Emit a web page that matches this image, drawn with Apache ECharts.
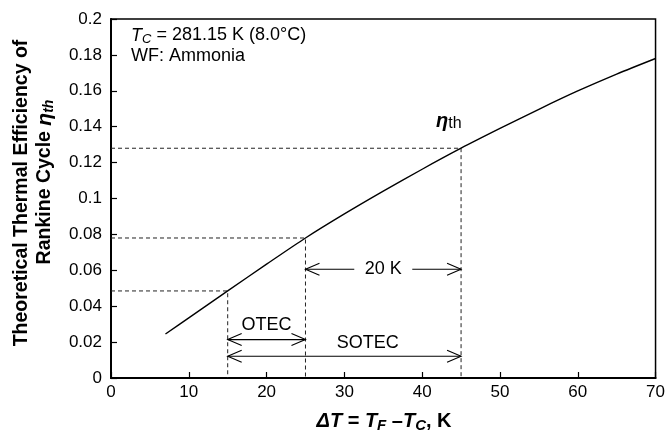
<!DOCTYPE html>
<html>
<head>
<meta charset="utf-8">
<script src="https://cdn.jsdelivr.net/npm/echarts@6/dist/echarts.min.js"></script>
<style>
  html, body { margin: 0; padding: 0; background: #fff; }
  #chart { width: 668px; height: 433px; }
</style>
</head>
<body>
<div id="chart"></div>
<script>
// Temperature difference ΔT (K) and theoretical Rankine-cycle efficiency
const deltaT = [7, 10, 15, 20, 25, 30, 35, 40, 45, 50, 55, 60, 65, 70];
const etaTh = [0.0245, 0.0335, 0.0485, 0.0634, 0.078, 0.0914, 0.1041, 0.1163, 0.128,
               0.139, 0.1497, 0.1599, 0.1693, 0.178];

// Operating points marked with dashed guides (ΔT values on the curve)
const guideDeltaT = [15, 25, 45];

// Range arrows: [from ΔT, to ΔT, height on the efficiency axis]
const arrowSpans = [[25, 45, 0.0606], [15, 25, 0.0214], [15, 45, 0.0121]];
const arrowNames = ['20 K', 'OTEC', 'SOTEC'];
// Where the range names sit: [ΔT, efficiency]
const arrowNamePos = [[35, 0.0606], [20, 0.0294], [33, 0.0193]];

// Axis ticks
const xTicks = { min: 0, max: 70, step: 10 };
const yTicks = { min: 0, max: 0.2, step: 0.02 };

const FONT = '"Liberation Sans", Arial, Helvetica, sans-serif';

const chart = echarts.init(document.getElementById('chart'), null, { renderer: 'canvas' });

const curve = deltaT.map((x, i) => [x, etaTh[i]]);

const guideSeries = guideDeltaT.map(x => {
  const y = etaTh[deltaT.indexOf(x)];
  return {
    type: 'line',
    data: [[0, y], [x, y], [x, 0]],
    symbol: 'none',
    silent: true,
    z: 1,
    lineStyle: { color: '#222', width: 1, type: [4, 3] }
  };
});

const arrowSeries = {
  type: 'custom',
  silent: true,
  z: 3,
  data: arrowSpans.map((s, i) => [s[0], s[1], s[2], i]),
  encode: { x: [0, 1], y: 2 },
  renderItem: function (params, api) {
    const idx = api.value(3);
    const a = api.coord([api.value(0), api.value(2)]);
    const b = api.coord([api.value(1), api.value(2)]);
    const head = 14, half = 6;
    const style = { stroke: '#000', lineWidth: 1.1, fill: null };
    const children = [];
    if (idx === 0) {
      // leave room for the centred label
      const mid = (a[0] + b[0]) / 2, gap = 29;
      children.push({ type: 'line', shape: { x1: a[0], y1: a[1], x2: mid - gap, y2: a[1] }, style });
      children.push({ type: 'line', shape: { x1: mid + gap, y1: a[1], x2: b[0], y2: b[1] }, style });
    } else {
      children.push({ type: 'line', shape: { x1: a[0], y1: a[1], x2: b[0], y2: b[1] }, style });
    }
    children.push({ type: 'polyline', shape: { points: [[a[0] + head, a[1] - half], [a[0], a[1]], [a[0] + head, a[1] + half]] }, style });
    children.push({ type: 'polyline', shape: { points: [[b[0] - head, b[1] - half], [b[0], b[1]], [b[0] - head, b[1] + half]] }, style });
    return { type: 'group', children };
  }
};

const nameSeries = {
  type: 'custom',
  silent: true,
  z: 4,
  data: arrowNamePos.map((p, i) => [p[0], p[1], i]),
  renderItem: function (params, api) {
    const p = api.coord([api.value(0), api.value(1)]);
    return {
      type: 'text',
      x: p[0], y: p[1],
      style: {
        text: arrowNames[api.value(2)],
        font: '18px ' + FONT,
        fill: '#000',
        align: 'center',
        verticalAlign: 'middle'
      }
    };
  }
};

const option = {
  animation: false,
  backgroundColor: '#fff',
  grid: { left: 111, right: 11, top: 19, bottom: 55, show: true, borderColor: '#000', borderWidth: 1.5 },
  xAxis: {
    type: 'value',
    min: xTicks.min, max: xTicks.max, interval: xTicks.step,
    axisLine: { show: true, lineStyle: { color: '#000', width: 2 } },
    axisTick: { show: true, inside: true, length: 6, lineStyle: { color: '#000', width: 1.2 } },
    axisLabel: { color: '#000', fontSize: 17, fontFamily: FONT, margin: 6 },
    splitLine: { show: false }
  },
  yAxis: {
    type: 'value',
    min: yTicks.min, max: yTicks.max, interval: yTicks.step,
    axisLine: { show: true, lineStyle: { color: '#000', width: 2 } },
    axisTick: { show: true, inside: true, length: 6, lineStyle: { color: '#000', width: 1.2 } },
    axisLabel: { color: '#000', fontSize: 17, fontFamily: FONT, margin: 9 },
    splitLine: { show: false }
  },
  series: [
    ...guideSeries,
    {
      type: 'line',
      data: curve,
      smooth: 0.3,
      symbol: 'none',
      z: 2,
      lineStyle: { color: '#000', width: 1.4 }
    },
    arrowSeries,
    nameSeries
  ],
  graphic: [
    {
      type: 'text',
      left: 131, top: 26,
      style: {
        text: '{i|T}{s|C}{n| = 281.15 K (8.0°C)}\n{n|WF: Ammonia}',
        fill: '#000',
        rich: {
          i: { fontFamily: FONT, fontSize: 18, fontStyle: 'italic', lineHeight: 21 },
          s: { fontFamily: FONT, fontSize: 13, fontStyle: 'italic', verticalAlign: 'bottom', lineHeight: 14, padding: [7, 0, 0, 0] },
          n: { fontFamily: FONT, fontSize: 18, lineHeight: 21 }
        }
      }
    },
    {
      type: 'text',
      left: 436, top: 110,
      style: {
        text: '{e|η}{s|th}',
        fill: '#000',
        rich: {
          e: { fontFamily: FONT, fontSize: 20, fontStyle: 'italic', fontWeight: 'bold', lineHeight: 22 },
          s: { fontFamily: FONT, fontSize: 16, verticalAlign: 'bottom', lineHeight: 16, padding: [6, 0, 0, 0] }
        }
      }
    },
    {
      type: 'text',
      x: 22, y: 193,
      rotation: Math.PI / 2,
      style: {
        text: 'Theoretical Thermal Efficiency of',
        fill: '#000',
        font: 'bold 19.5px ' + FONT,
        align: 'center',
        verticalAlign: 'middle'
      }
    },
    {
      type: 'text',
      x: 45, y: 182,
      rotation: Math.PI / 2,
      style: {
        text: '{b|Rankine Cycle }{e|η}{s|th}',
        fill: '#000',
        align: 'center',
        verticalAlign: 'middle',
        rich: {
          b: { fontFamily: FONT, fontSize: 19.5, fontWeight: 'bold', lineHeight: 23 },
          e: { fontFamily: FONT, fontSize: 21, fontWeight: 'bold', fontStyle: 'italic', lineHeight: 23 },
          s: { fontFamily: FONT, fontSize: 14, fontWeight: 'bold', fontStyle: 'italic', verticalAlign: 'bottom', lineHeight: 14, padding: [7, 0, 0, 0] }
        }
      }
    },
    {
      type: 'text',
      x: 384, y: 421,
      style: {
        text: '{i|ΔT}{n| = }{i|T}{s|F}{n| –}{i|T}{s|C}{n|, K}',
        fill: '#000',
        align: 'center',
        verticalAlign: 'middle',
        rich: {
          i: { fontFamily: FONT, fontSize: 20, fontWeight: 'bold', fontStyle: 'italic', lineHeight: 24 },
          n: { fontFamily: FONT, fontSize: 20, fontWeight: 'bold', lineHeight: 24 },
          s: { fontFamily: FONT, fontSize: 15, fontWeight: 'bold', fontStyle: 'italic', verticalAlign: 'bottom', lineHeight: 15, padding: [9, 0, 0, 0] }
        }
      }
    }
  ]
};

chart.setOption(option);
</script>
</body>
</html>
